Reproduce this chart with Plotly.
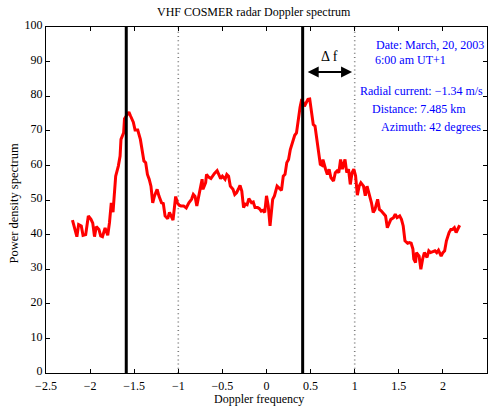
import plotly.graph_objects as go

# ---------------- data ----------------
doppler_freq = [
    -2.20, -2.15, -2.13, -2.10, -2.08, -2.05, -2.02, -1.99, -1.97, -1.95,
    -1.93, -1.90, -1.88, -1.86, -1.83, -1.80, -1.78, -1.76, -1.74, -1.72,
    -1.71, -1.68, -1.66, -1.65, -1.62, -1.61, -1.59, -1.56, -1.54, -1.51,
    -1.49, -1.46, -1.43, -1.41, -1.39, -1.37, -1.35, -1.33, -1.31, -1.29,
    -1.27, -1.24, -1.22, -1.19, -1.17, -1.15, -1.12, -1.10, -1.08, -1.06,
    -1.03, -1.01, -0.99, -0.97, -0.94, -0.91, -0.88, -0.85, -0.83, -0.81,
    -0.79, -0.77, -0.75, -0.73, -0.72, -0.69, -0.68, -0.66, -0.63, -0.61,
    -0.59, -0.56, -0.54, -0.52, -0.50, -0.47, -0.45, -0.43, -0.41, -0.38,
    -0.36, -0.34, -0.32, -0.30, -0.28, -0.26, -0.24, -0.22, -0.20, -0.17,
    -0.15, -0.13, -0.10, -0.08, -0.06, -0.04, -0.02, 0.00, 0.02, 0.04,
    0.07, 0.09, 0.12, 0.15, 0.17, 0.19, 0.21, 0.23, 0.25, 0.27,
    0.30, 0.32, 0.34, 0.36, 0.38, 0.40, 0.43, 0.45, 0.47, 0.49,
    0.51, 0.53, 0.55, 0.57, 0.59, 0.61, 0.63, 0.64, 0.67, 0.69,
    0.71, 0.73, 0.76, 0.78, 0.80, 0.82, 0.84, 0.86, 0.89, 0.91,
    0.93, 0.95, 0.97, 0.99, 1.01, 1.03, 1.05, 1.07, 1.10, 1.12,
    1.14, 1.16, 1.19, 1.21, 1.23, 1.26, 1.28, 1.30, 1.32, 1.35,
    1.37, 1.39, 1.41, 1.44, 1.46, 1.48, 1.51, 1.53, 1.55, 1.57,
    1.60, 1.62, 1.64, 1.66, 1.67, 1.69, 1.70, 1.73, 1.75, 1.77,
    1.79, 1.82, 1.84, 1.86, 1.88, 1.91, 1.93, 1.95, 1.98, 2.00,
    2.02, 2.04, 2.07, 2.09, 2.11, 2.13, 2.15, 2.18, 2.19,
]
power_density = [
    44.2, 39.4, 42.9, 42.5, 39.8, 40.0, 45.4, 44.4, 43.3, 39.4,
    42.3, 41.5, 39.6, 39.4, 41.9, 39.8, 43.5, 49.2, 46.5, 53.1,
    56.9, 59.8, 62.7, 67.5, 69.4, 73.5, 74.2, 75.4, 74.2, 72.5,
    70.2, 70.2, 67.5, 63.7, 61.3, 60.8, 57.4, 56.0, 54.0, 49.2,
    51.2, 53.1, 51.2, 49.2, 49.0, 45.4, 44.6, 46.4, 45.4, 44.2,
    51.0, 49.2, 48.5, 48.3, 48.3, 47.7, 49.2, 50.2, 51.6, 51.0,
    48.3, 51.2, 54.0, 56.0, 53.1, 55.0, 57.4, 56.7, 56.2, 57.1,
    57.7, 58.5, 57.4, 56.2, 56.9, 56.0, 57.4, 56.9, 54.0, 53.1,
    51.6, 52.1, 53.1, 54.2, 52.6, 47.8, 48.8, 48.6, 50.4, 49.2,
    49.4, 47.8, 47.8, 47.5, 46.8, 47.0, 46.4, 51.2, 48.3, 42.5,
    50.2, 51.2, 54.0, 53.1, 52.8, 56.9, 57.4, 60.8, 61.7, 64.6,
    67.5, 68.7, 69.4, 73.3, 76.7, 79.2, 77.1, 78.1, 79.1, 79.2,
    75.2, 71.8, 71.4, 67.5, 62.7, 60.3, 60.0, 61.7, 58.9, 57.4,
    58.9, 56.5, 55.5, 57.9, 58.4, 57.9, 61.7, 58.9, 61.7, 57.9,
    58.9, 54.5, 57.9, 58.9, 57.0, 51.4, 54.0, 55.0, 54.0, 51.2,
    54.0, 52.1, 49.2, 46.4, 47.3, 50.2, 47.3, 46.9, 46.4, 45.4,
    42.0, 43.0, 44.4, 44.9, 45.9, 44.9, 45.4, 44.4, 42.5, 38.2,
    37.5, 37.7, 37.5, 35.8, 32.9, 31.9, 34.8, 33.8, 30.0, 32.9,
    34.8, 33.4, 35.3, 34.8, 35.0, 35.3, 34.8, 35.5, 33.8, 34.8,
    35.3, 38.2, 40.6, 41.5, 41.5, 42.0, 40.6, 42.5, 42.7,
]

bragg_measured = [-1.59, 0.41]      # thick black lines
bragg_theoretical = [-1.0, 1.0]     # dotted lines
delta_f_span = [0.45, 0.97]         # double arrow extent
delta_f_level = 87

x_tickvals = [-2.5, -2, -1.5, -1, -0.5, 0, 0.5, 1, 1.5, 2, 2.5]
x_ticktext = ["\u22122.5", "\u22122", "\u22121.5", "\u22121", "\u22120.5",
              "0", "0.5", "1", "1.5", "2", "2.5"]
y_tickvals = [0, 10, 20, 30, 40, 50, 60, 70, 80, 90, 100]

title_text = "VHF COSMER radar Doppler spectrum"
x_title = "Doppler frequency"
y_title = "Power density spectrum"
info_lines = [
    "Date: March, 20, 2003",
    "6:00 am UT+1",
    "Radial current: \u22121.34 m/s",
    "Distance: 7.485 km",
    "Azimuth: 42 degrees",
]

# ---------------- figure ----------------
FONT = "Liberation Serif"
W, H = 494, 407
ML, MR, MT, MB = 46, 7, 27, 34
PW, PH = W - ML - MR, H - MT - MB

fig = go.Figure()

for xv in bragg_theoretical:
    fig.add_trace(go.Scatter(
        x=[xv, xv], y=[0, 100], mode="lines",
        line=dict(color="#7a7a7a", width=1.6, dash="1px,3.2px"),
        hoverinfo="skip", showlegend=False))

fig.add_trace(go.Scatter(
    x=doppler_freq, y=power_density, mode="lines",
    line=dict(color="#ff0000", width=3),
    showlegend=False))

for xv in bragg_measured:
    fig.add_trace(go.Scatter(
        x=[xv, xv], y=[0, 100], mode="lines",
        line=dict(color="black", width=3),
        hoverinfo="skip", showlegend=False))

def px_to_paper(px, py):
    return (px - ML) / PW, (H - MB - py) / PH

annotations = []
# double arrow Δf
annotations.append(dict(
    x=delta_f_span[1], y=delta_f_level, ax=delta_f_span[0], ay=delta_f_level,
    xref="x", yref="y", axref="x", ayref="y", text="",
    showarrow=True, arrowhead=2, startarrowhead=2, arrowside="end+start",
    arrowwidth=2.2, arrowsize=1, startarrowsize=1, arrowcolor="black",
    standoff=0, startstandoff=0))
dx, dy = px_to_paper(329.5, 56)
annotations.append(dict(
    x=dx, y=dy, xref="paper", yref="paper", text="\u0394 f", showarrow=False,
    xanchor="center", yanchor="middle",
    font=dict(family=FONT, size=14, color="black")))

info_pos = [(429.5, 45), (410.8, 59.5), (421.5, 91), (419, 108.5), (431, 127.3)]
for txt, (px, py) in zip(info_lines, info_pos):
    ix, iy = px_to_paper(px, py)
    annotations.append(dict(
        x=ix, y=iy, xref="paper", yref="paper", text=txt, showarrow=False,
        xanchor="center", yanchor="middle",
        font=dict(family=FONT, size=12, color="#0000ff")))

# axis titles as annotations (exact placement)
tx, ty = px_to_paper(258.5, 398.5)
annotations.append(dict(
    x=tx, y=ty, xref="paper", yref="paper", text=x_title, showarrow=False,
    xanchor="center", yanchor="middle",
    font=dict(family=FONT, size=12, color="black")))
tx, ty = px_to_paper(14, 203.5)
annotations.append(dict(
    x=tx, y=ty, xref="paper", yref="paper", text=y_title, showarrow=False,
    xanchor="center", yanchor="middle", textangle=-90,
    font=dict(family=FONT, size=12.5, color="black")))
tx, ty = px_to_paper(254, 12)
annotations.append(dict(
    x=tx, y=ty, xref="paper", yref="paper", text=title_text, showarrow=False,
    xanchor="center", yanchor="middle",
    font=dict(family=FONT, size=12, color="black")))

axis_common = dict(
    showline=True, linecolor="black", linewidth=1, mirror="ticks",
    ticks="inside", ticklen=4, tickwidth=1, tickcolor="black",
    showgrid=False, zeroline=False, automargin=False,
    tickfont=dict(family=FONT, size=12, color="black"),
)

fig.update_layout(
    width=W, height=H,
    margin=dict(l=ML, r=MR, t=MT, b=MB, pad=0, autoexpand=False),
    paper_bgcolor="white", plot_bgcolor="white",
    font=dict(family=FONT, size=12, color="black"),
    xaxis=dict(range=[-2.5, 2.5], tickmode="array", tickvals=x_tickvals,
               ticktext=x_ticktext, ticklabelstandoff=2, **axis_common),
    yaxis=dict(range=[0, 100], tickmode="array", tickvals=y_tickvals,
               ticklabelshift=-2, **axis_common),
    annotations=annotations,
)

fig.write_html(
    "out.html",
    config={"displayModeBar": False},
    post_script="document.body.style.margin='0';document.body.style.padding='0';",
)
